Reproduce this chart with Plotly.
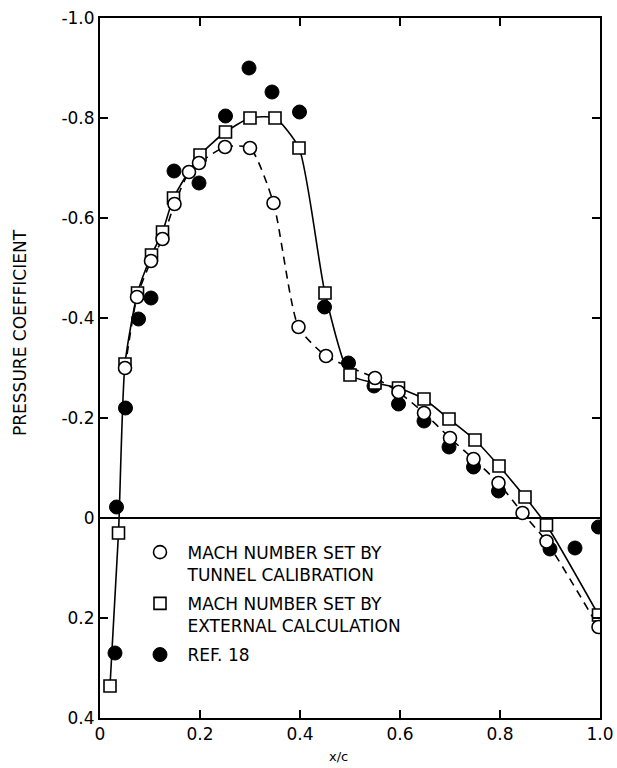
import plotly.graph_objects as go

# x/c stations and pressure coefficients
x_tunnel = [0.05, 0.074, 0.102, 0.125, 0.149, 0.178, 0.198, 0.25, 0.30, 0.347, 0.397,
            0.452, 0.55, 0.597, 0.648, 0.70, 0.747, 0.797, 0.845, 0.893, 0.997]
cp_tunnel = [-0.30, -0.442, -0.514, -0.558, -0.628, -0.692, -0.71, -0.742, -0.74, -0.63, -0.382,
             -0.324, -0.28, -0.252, -0.21, -0.16, -0.118, -0.07, -0.01, 0.047, 0.218]

x_external = [0.02, 0.037, 0.05, 0.075, 0.103, 0.125, 0.147, 0.20, 0.251, 0.30, 0.35, 0.398,
              0.45, 0.50, 0.55, 0.597, 0.648, 0.698, 0.75, 0.798, 0.85, 0.893, 0.997]
cp_external = [0.336, 0.03, -0.308, -0.45, -0.526, -0.572, -0.64, -0.726, -0.772, -0.80, -0.80, -0.74,
               -0.45, -0.286, -0.27, -0.26, -0.238, -0.198, -0.156, -0.104, -0.042, 0.014, 0.194]

x_ref18 = [0.03, 0.033, 0.051, 0.077, 0.102, 0.148, 0.198, 0.251, 0.298, 0.344, 0.399,
           0.449, 0.497, 0.548, 0.597, 0.648, 0.698, 0.747, 0.797, 0.90, 0.95, 0.997]
cp_ref18 = [0.27, -0.022, -0.22, -0.398, -0.44, -0.694, -0.67, -0.804, -0.90, -0.852, -0.812,
            -0.422, -0.31, -0.264, -0.228, -0.194, -0.142, -0.102, -0.054, 0.062, 0.06, 0.018]

x_ticks = [0, 0.2, 0.4, 0.6, 0.8, 1.0]
x_ticklabels = ["0", "0.2", "0.4", "0.6", "0.8", "1.0"]
y_ticks = [-1.0, -0.8, -0.6, -0.4, -0.2, 0, 0.2, 0.4]
y_ticklabels = ["-1.0", "-0.8", "-0.6", "-0.4", "-0.2", "0", "0.2", "0.4"]

legend_names = ["MACH NUMBER SET BY<br>TUNNEL CALIBRATION",
                "MACH NUMBER SET BY<br>EXTERNAL CALCULATION",
                "REF. 18"]

FONT = "DejaVu Sans"

fig = go.Figure()

# curves and markers
fig.add_trace(go.Scatter(
    x=x_tunnel, y=cp_tunnel, mode="lines", showlegend=False,
    line=dict(color="black", width=1.6, dash="8px,6px", shape="spline", smoothing=0.6)))
fig.add_trace(go.Scatter(
    x=x_external, y=cp_external, mode="lines", showlegend=False,
    line=dict(color="black", width=1.6, shape="spline", smoothing=0.6)))
fig.add_trace(go.Scatter(
    x=x_ref18, y=cp_ref18, mode="markers", showlegend=False,
    marker=dict(symbol="circle", size=14, color="black", line=dict(color="black", width=1))))
fig.add_trace(go.Scatter(
    x=x_external, y=cp_external, mode="markers", showlegend=False,
    marker=dict(symbol="square", size=12, color="white", line=dict(color="black", width=1.6))))
fig.add_trace(go.Scatter(
    x=x_tunnel, y=cp_tunnel, mode="markers", showlegend=False,
    marker=dict(symbol="circle", size=13, color="white", line=dict(color="black", width=1.6))))

# legend-only entries (marker symbols only)
legend_markers = [
    dict(symbol="circle", size=13, color="white", line=dict(color="black", width=1.6)),
    dict(symbol="square", size=12, color="white", line=dict(color="black", width=1.6)),
    dict(symbol="circle", size=14, color="black", line=dict(color="black", width=1)),
]
for i, (name, mk) in enumerate(zip(legend_names, legend_markers)):
    fig.add_trace(go.Scatter(x=[None], y=[None], mode="markers", name=name,
                             marker=mk, legendgroup=f"g{i}"))

fig.update_layout(
    width=617, height=768,
    margin=dict(l=100, r=17, t=18, b=50, autoexpand=False),
    paper_bgcolor="white", plot_bgcolor="white",
    font=dict(family=FONT, color="black", size=16),
    legend=dict(x=0.065, y=0.262, xanchor="left", yanchor="top",
                bgcolor="rgba(0,0,0,0)", font=dict(size=17, family=FONT),
                valign="top", tracegroupgap=4, itemwidth=45),
    annotations=[
        dict(text="PRESSURE COEFFICIENT", textangle=-90, xref="paper", yref="paper",
             x=-0.16, y=0.55, xanchor="center", yanchor="middle", showarrow=False,
             font=dict(size=17, family=FONT)),
        dict(text="x/c", xref="paper", yref="paper", x=0.476, y=-0.055,
             xanchor="center", yanchor="middle", showarrow=False,
             font=dict(size=13, family=FONT)),
    ],
)

fig.update_xaxes(
    range=[0, 1.0], tickvals=x_ticks, ticktext=x_ticklabels,
    ticks="inside", ticklen=8, tickwidth=1.5, tickcolor="black",
    showline=True, linecolor="black", linewidth=2, mirror="ticks",
    showgrid=False, zeroline=False, ticklabeloverflow="allow",
    tickfont=dict(size=17, family=FONT))
fig.update_yaxes(
    range=[0.4, -1.0], tickvals=y_ticks, ticktext=y_ticklabels,
    ticks="inside", ticklen=8, tickwidth=1.5, tickcolor="black",
    showline=True, linecolor="black", linewidth=2, mirror="ticks",
    showgrid=False, zeroline=True, zerolinecolor="black", zerolinewidth=2,
    ticklabeloverflow="allow", tickfont=dict(size=17, family=FONT))

# drop the default page margin so the figure fills the window exactly
fig.write_html("out.html", config={"displayModeBar": False},
               post_script="document.body.style.margin='0';document.body.style.overflow='hidden';")
